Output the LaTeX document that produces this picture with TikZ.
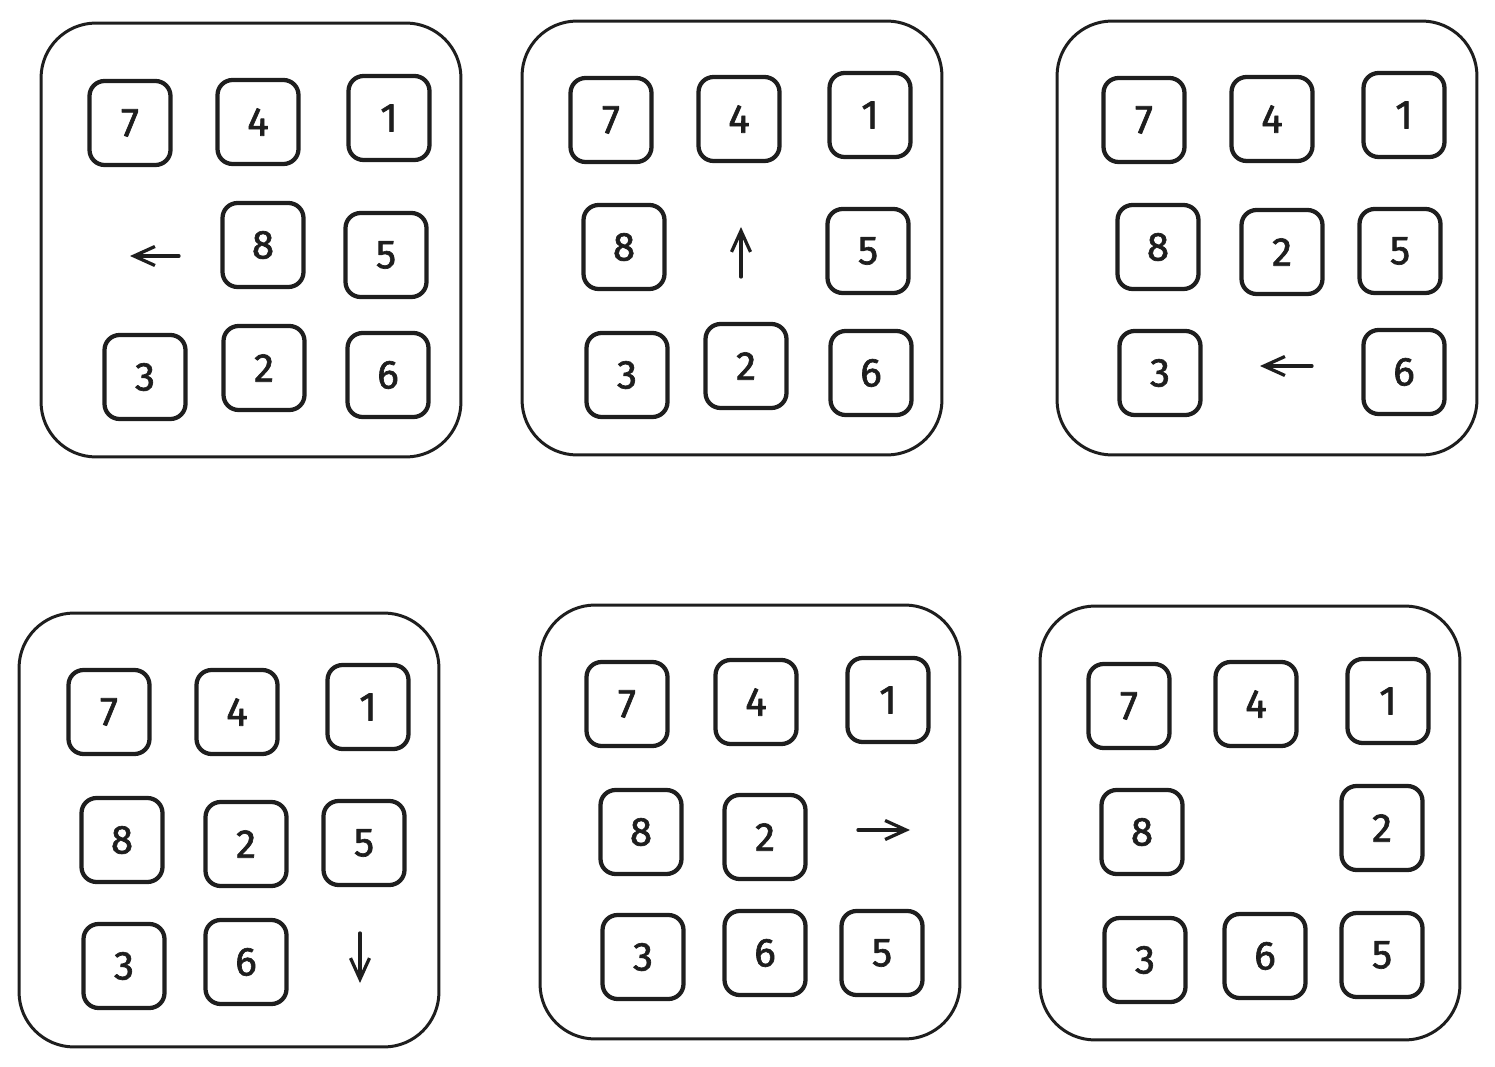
\documentclass[tikz,border=0pt]{standalone}
\usepackage{fontspec}
\setmainfont{Fira Sans}
\newfontfamily\tilefont{Fira Sans}[FakeBold=1.6]
\usetikzlibrary{arrows.meta,positioning}
\definecolor{ink}{HTML}{1E1E1E}
\tikzset{
	puzzle/.style={
		x=0.02cm, y=-0.02cm,
		line cap=round, line join=round,
		draw=ink, text=ink},
	board/.style={draw=ink, line width=0.06cm, rounded corners=1.1cm,
		minimum width=8.4cm, minimum height=8.68cm, inner sep=0pt},
	tile/.style={draw=ink, line width=0.085cm, rounded corners=0.3cm,
		minimum width=1.62cm, minimum height=1.68cm, inner sep=0pt,
		font=\tilefont\fontsize{23}{23}\selectfont},
	move/.style={draw=ink, line width=0.065cm,
		-{Straight Barb[length=0.42cm,width=0.38cm,line width=0.065cm]}}
}

\begin{document}
\begin{tikzpicture}[puzzle]
	\useasboundingbox (0,0) rectangle (1495,1067);
	% boards
	\node[board] (a) at (251,240) {};
	\node[board] (b) at (732,238) {};
	\node[board] (c) at (1267,238) {};
	\node[board] (d) at (229,830) {};
	\node[board] (e) at (750,822) {};
	\node[board] (f) at (1250,823) {};
	% tiles
	\foreach \n/\x/\y in {7/130/123, 4/258/122, 1/389/118, 8/263/245, 5/386/255, 3/145/377, 2/264/368, 6/388/375}
		\node[tile] (a\n) at (\x,\y) {\n};
	\foreach \n/\x/\y in {7/611/120, 4/739/119, 1/870/115, 8/624/247, 5/868/251, 3/627/375, 2/746/366, 6/871/373}
		\node[tile] (b\n) at (\x,\y) {\n};
	\foreach \n/\x/\y in {7/1144/120, 4/1272/119, 1/1404/115, 8/1158/247, 2/1282/252, 5/1400/251, 3/1160/373, 6/1404/372}
		\node[tile] (c\n) at (\x,\y) {\n};
	\foreach \n/\x/\y in {7/109/712, 4/237/712, 1/368/707, 8/122/840, 2/246/844, 5/364/843, 3/124/966, 6/246/962}
		\node[tile] (d\n) at (\x,\y) {\n};
	\foreach \n/\x/\y in {7/627/704, 4/756/702, 1/888/700, 8/641/832, 2/765/837, 3/643/957, 6/765/953, 5/882/953}
		\node[tile] (e\n) at (\x,\y) {\n};
	\foreach \n/\x/\y in {7/1129/706, 4/1256/704, 1/1388/701, 8/1142/832, 2/1382/828, 3/1145/960, 6/1265/956, 5/1382/955}
		\node[tile] (f\n) at (\x,\y) {\n};
	% moves of the gap
	\coordinate (a_mv) at (179,256); \coordinate (a_mv') at (130,256);
	\coordinate (b_mv) at (741,277); \coordinate (b_mv') at (741,227);
	\coordinate (c_mv) at (1312,366); \coordinate (c_mv') at (1260,366);
	\coordinate (d_mv) at (360,933); \coordinate (d_mv') at (360,983);
	\coordinate (e_mv) at (858,830); \coordinate (e_mv') at (910,830);
	\draw[move] (a_mv) -- (a_mv');
	\draw[move] (b_mv) -- (b_mv');
	\draw[move] (c_mv) -- (c_mv');
	\draw[move] (d_mv) -- (d_mv');
	\draw[move] (e_mv) -- (e_mv');
\end{tikzpicture}
\end{document}
